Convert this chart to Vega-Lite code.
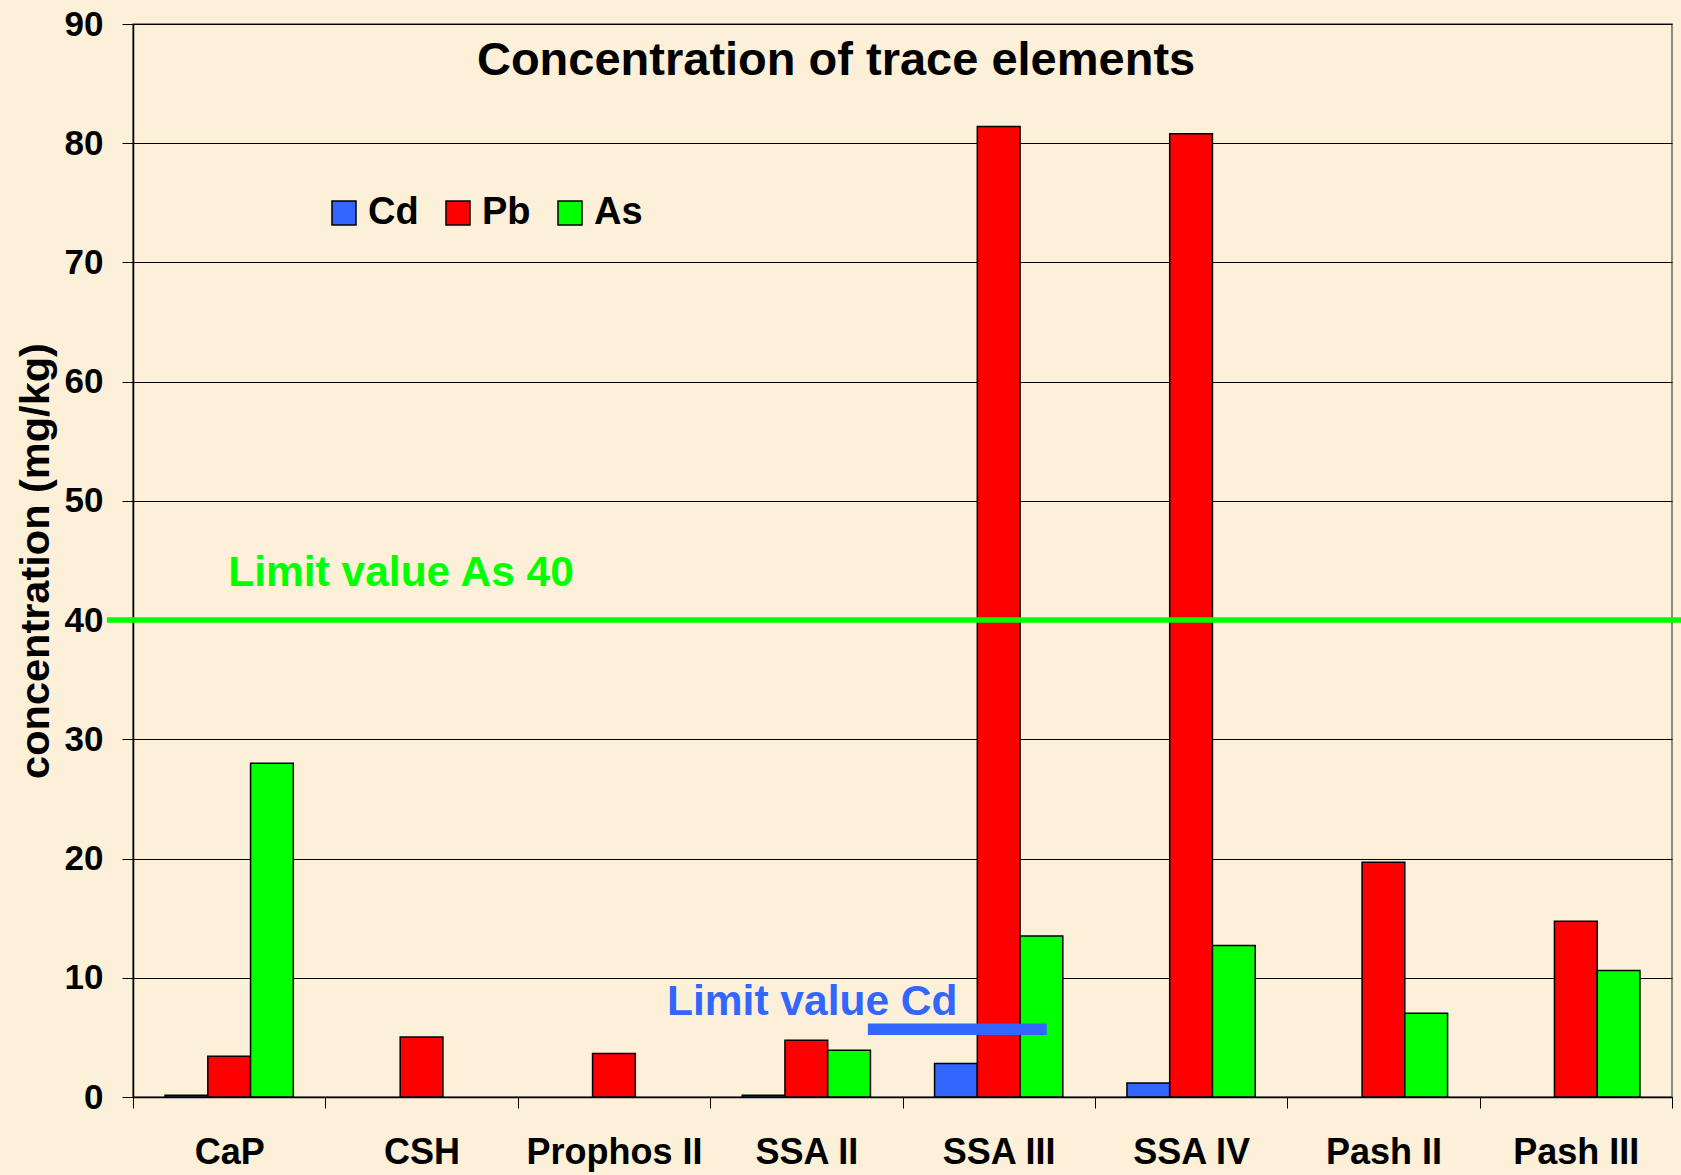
{
  "$schema": "https://vega.github.io/schema/vega-lite/v6.json",
  "width": 1539,
  "height": 1073,
  "autosize": {"type": "none"},
  "padding": {"left": 133, "top": 24, "right": 9, "bottom": 78},
  "background": "#FCF0D8",
  "config": {
    "font": "Liberation Sans",
    "view": {"stroke": "#666666", "strokeWidth": 1.5}
  },
  "layer": [
    {
      "data": {
        "values": [
          {"material": "CaP", "element": "Cd", "concentration": 0.15},
          {"material": "CaP", "element": "Pb", "concentration": 3.42},
          {"material": "CaP", "element": "As", "concentration": 28.0},
          {"material": "CSH", "element": "Pb", "concentration": 5.04},
          {"material": "Prophos II", "element": "Pb", "concentration": 3.65},
          {"material": "SSA II", "element": "Cd", "concentration": 0.15},
          {"material": "SSA II", "element": "Pb", "concentration": 4.76},
          {"material": "SSA II", "element": "As", "concentration": 3.92},
          {"material": "SSA III", "element": "Cd", "concentration": 2.8},
          {"material": "SSA III", "element": "Pb", "concentration": 81.4},
          {"material": "SSA III", "element": "As", "concentration": 13.5},
          {"material": "SSA IV", "element": "Cd", "concentration": 1.17},
          {"material": "SSA IV", "element": "Pb", "concentration": 80.8},
          {"material": "SSA IV", "element": "As", "concentration": 12.7},
          {"material": "Pash II", "element": "Pb", "concentration": 19.7},
          {"material": "Pash II", "element": "As", "concentration": 7.03},
          {"material": "Pash III", "element": "Pb", "concentration": 14.75},
          {"material": "Pash III", "element": "As", "concentration": 10.6}
        ]
      },
      "mark": {"type": "bar", "stroke": "black", "strokeWidth": 1.5},
      "encoding": {
        "x": {
          "field": "material",
          "type": "nominal",
          "sort": ["CaP", "CSH", "Prophos II", "SSA II", "SSA III", "SSA IV", "Pash II", "Pash III"],
          "scale": {"paddingInner": 0, "paddingOuter": 0},
          "axis": {
            "title": null,
            "labelAngle": 0,
            "labelFontSize": 36,
            "labelFontWeight": "bold",
            "labelColor": "black",
            "labelPadding": 27,
            "tickBand": "extent",
            "tickSize": 11,
            "tickColor": "black",
            "tickWidth": 1,
            "domainColor": "black",
            "domainWidth": 1.5,
            "grid": false
          }
        },
        "xOffset": {
          "field": "element",
          "type": "nominal",
          "scale": {"domain": ["Cd", "Pb", "As"], "paddingInner": 0, "paddingOuter": 0.75}
        },
        "y": {
          "field": "concentration",
          "type": "quantitative",
          "scale": {"domain": [0, 90], "nice": false},
          "axis": {
            "title": "concentration (mg/kg)",
            "values": [0, 10, 20, 30, 40, 50, 60, 70, 80, 90],
            "grid": true,
            "gridColor": "black",
            "gridWidth": 1,
            "gridOpacity": 1,
            "tickSize": 11,
            "tickColor": "black",
            "domainColor": "black",
            "domainWidth": 1.5,
            "labelFontSize": 35,
            "labelFontWeight": "bold",
            "labelColor": "black",
            "labelPadding": 19,
            "titleFontSize": 41.5,
            "titleFontWeight": "bold",
            "titleColor": "black",
            "titleX": -97,
            "titleY": 536.5,
            "titleAngle": -90,
            "titleBaseline": "middle",
            "titleAlign": "center"
          }
        },
        "color": {
          "field": "element",
          "type": "nominal",
          "scale": {"domain": ["Cd", "Pb", "As"], "range": ["#3366FF", "#FF0000", "#00FF00"]},
          "legend": {
            "title": null,
            "orient": "none",
            "legendX": 192,
            "legendY": 170,
            "direction": "horizontal",
            "symbolType": "square",
            "symbolSize": 576,
            "symbolStrokeColor": "black",
            "symbolStrokeWidth": 1.5,
            "symbolOpacity": 1,
            "labelFontSize": 38,
            "labelFontWeight": "bold",
            "labelColor": "black",
            "labelOffset": 5,
            "columnPadding": 20,
            "padding": 0
          }
        }
      }
    },
    {
      "layer": [
        {
          "data": {"values": [{"limit": "As", "concentration": 40, "from": -0.135, "to": 8.05}]},
          "mark": {"type": "rule", "color": "#00FF00", "strokeWidth": 5.5},
          "encoding": {
            "x": {"field": "from", "type": "quantitative", "scale": {"domain": [0, 8], "nice": false, "zero": false}, "axis": null},
            "x2": {"field": "to"},
            "y": {"field": "concentration", "type": "quantitative"}
          }
        },
        {
          "data": {"values": [{"label": "Limit value As 40", "pos": 0.495, "concentration": 42.83}]},
          "mark": {"type": "text", "color": "#00FF00", "fontSize": 42.5, "fontWeight": "bold", "align": "left", "baseline": "alphabetic"},
          "encoding": {
            "x": {"field": "pos", "type": "quantitative"},
            "y": {"field": "concentration", "type": "quantitative"},
            "text": {"field": "label"}
          }
        },
        {
          "data": {"values": [{"limit": "Cd", "concentration": 5.69, "from": 3.82, "to": 4.75}]},
          "mark": {"type": "rule", "color": "#3366FF", "strokeWidth": 11.5},
          "encoding": {
            "x": {"field": "from", "type": "quantitative"},
            "x2": {"field": "to"},
            "y": {"field": "concentration", "type": "quantitative"}
          }
        },
        {
          "data": {"values": [{"label": "Limit value Cd", "pos": 2.776, "concentration": 6.86}]},
          "mark": {"type": "text", "color": "#3366FF", "fontSize": 42.5, "fontWeight": "bold", "align": "left", "baseline": "alphabetic"},
          "encoding": {
            "x": {"field": "pos", "type": "quantitative"},
            "y": {"field": "concentration", "type": "quantitative"},
            "text": {"field": "label"}
          }
        },
        {
          "data": {"values": [{"label": "Concentration of trace elements", "pos": 1.788, "concentration": 85.76}]},
          "mark": {"type": "text", "color": "black", "fontSize": 47, "fontWeight": "bold", "align": "left", "baseline": "alphabetic"},
          "encoding": {
            "x": {"field": "pos", "type": "quantitative"},
            "y": {"field": "concentration", "type": "quantitative"},
            "text": {"field": "label"}
          }
        }
      ]
    }
  ],
  "resolve": {"scale": {"x": "independent"}}
}
